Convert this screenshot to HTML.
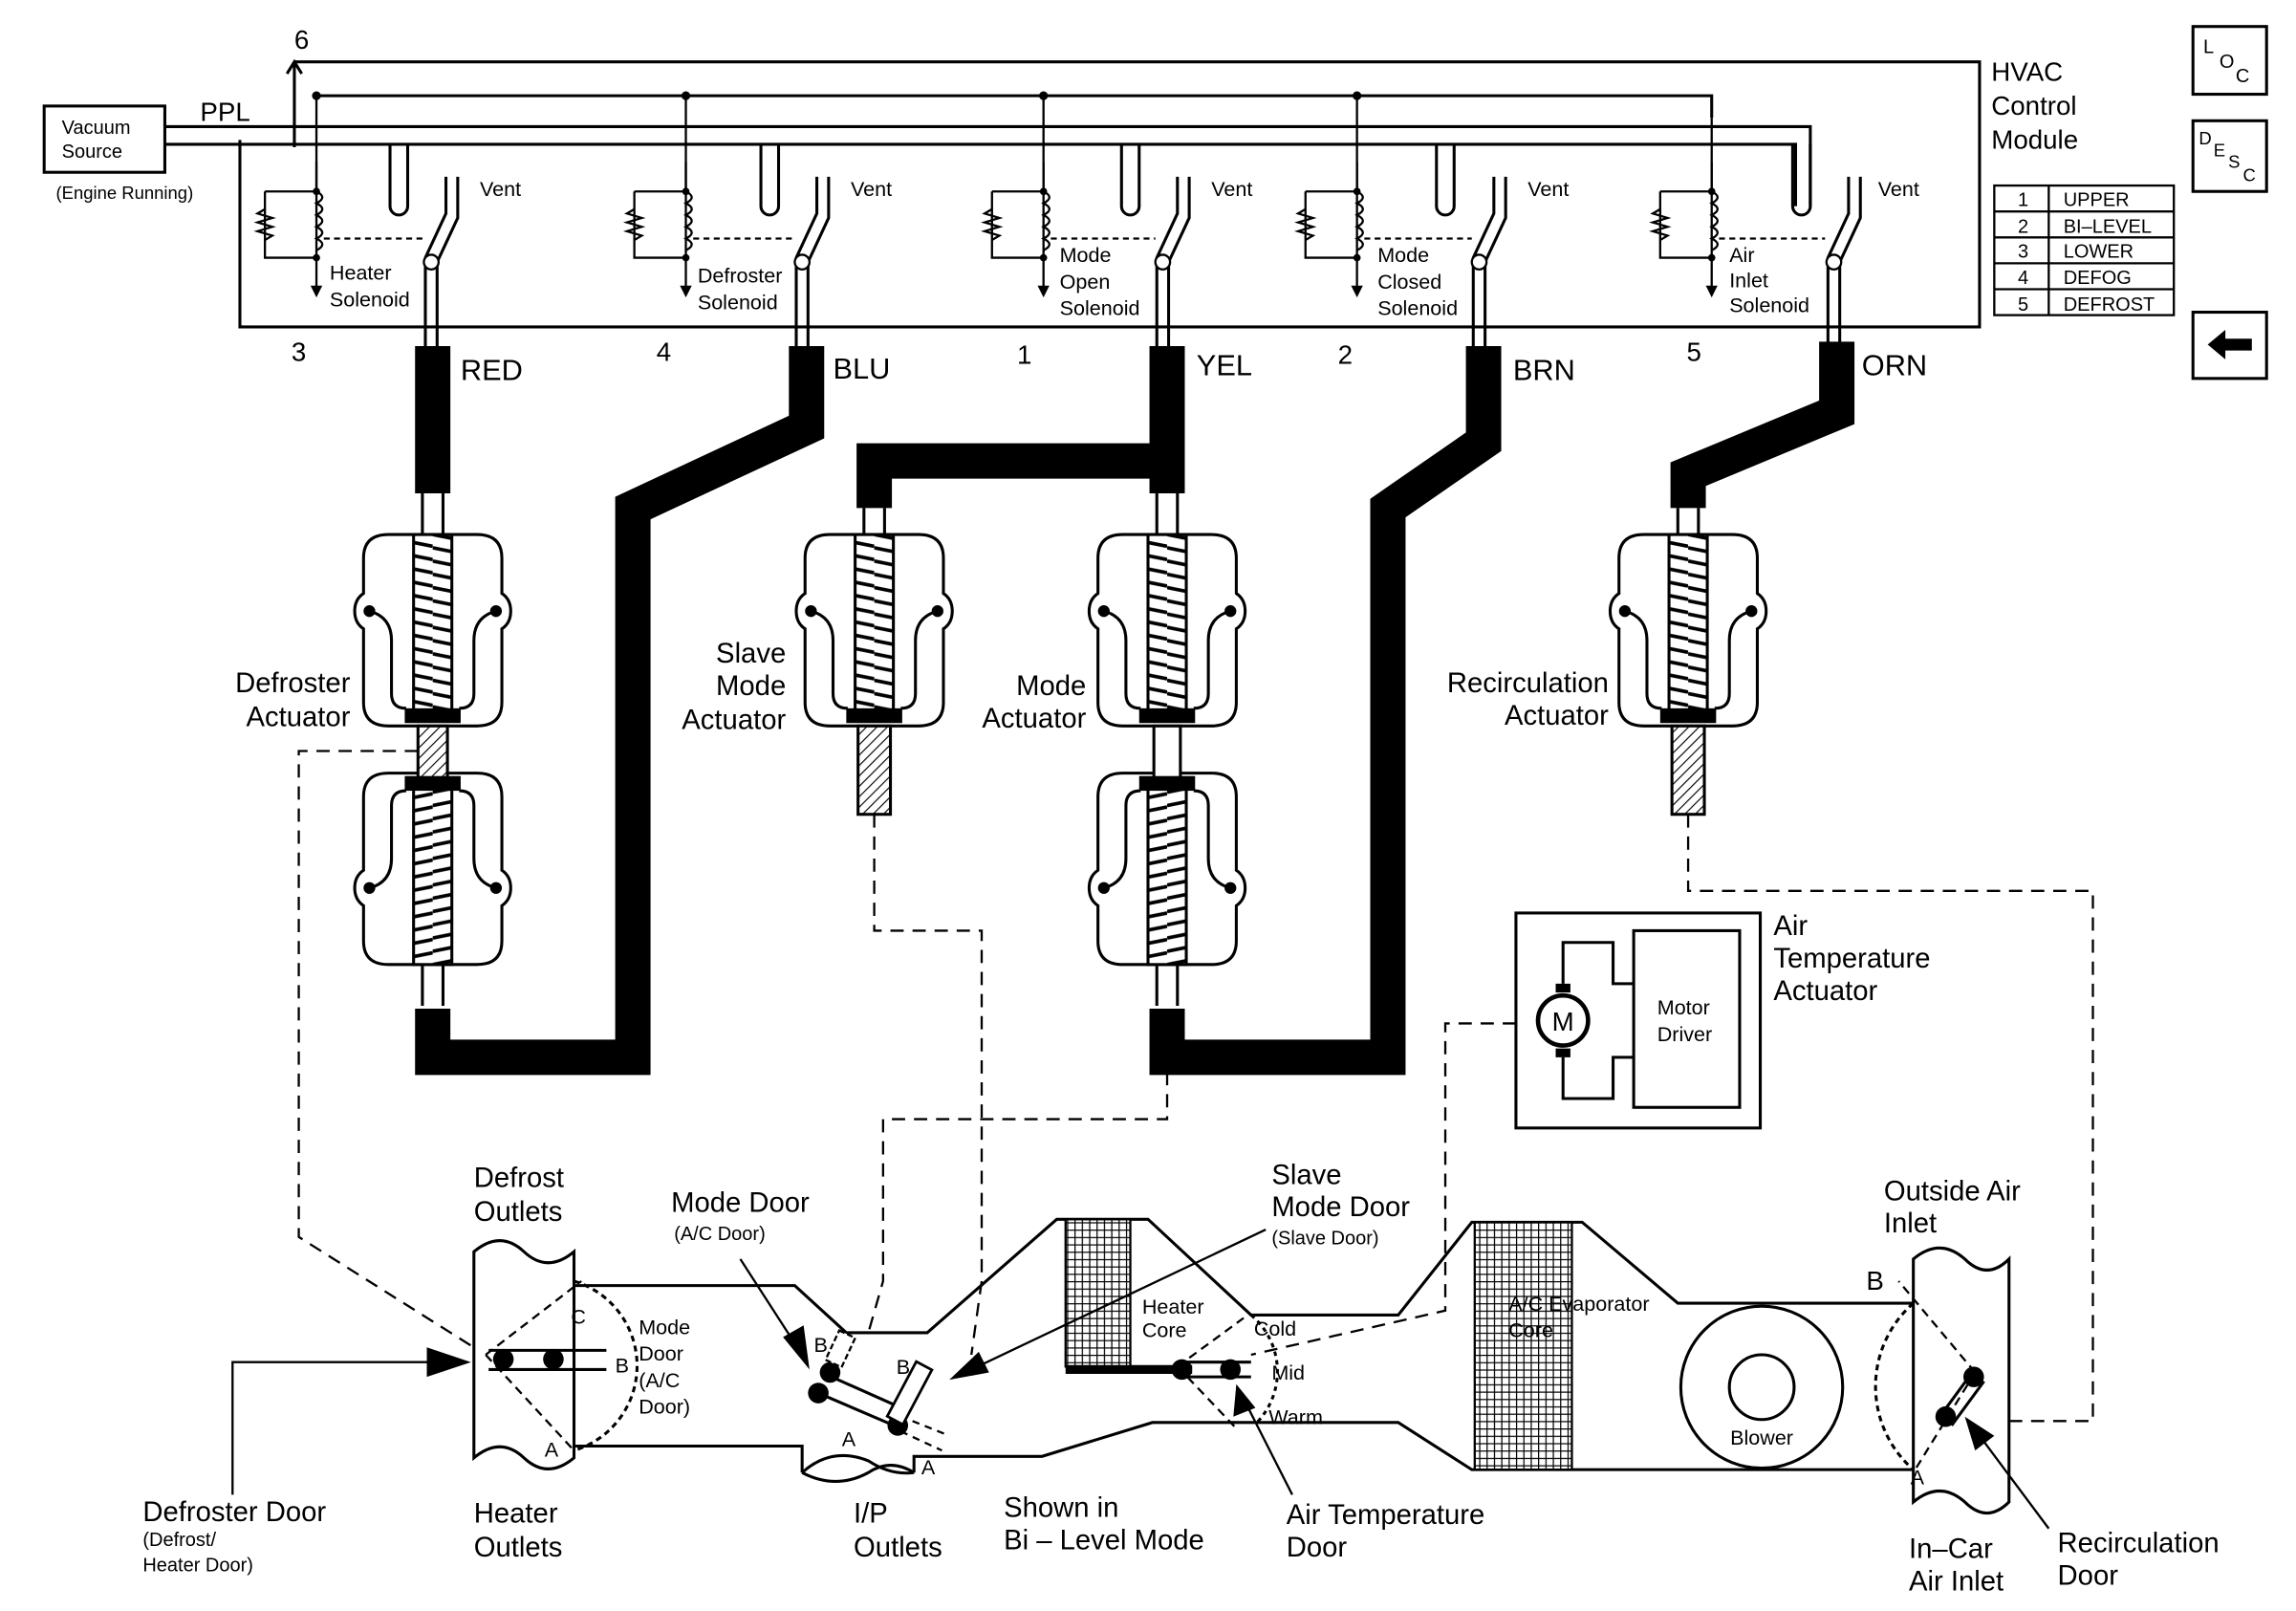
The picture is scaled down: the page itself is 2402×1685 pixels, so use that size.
<!DOCTYPE html>
<html><head><meta charset="utf-8"><style>
html,body{margin:0;padding:0;background:#fff}
svg{display:block}
text{font-family:"Liberation Sans",sans-serif;fill:#000}
</style></head><body>
<svg width="2402" height="1685" viewBox="0 0 1560 1094" preserveAspectRatio="none" xmlns="http://www.w3.org/2000/svg">
<defs>
<pattern id="grid" width="5" height="5" patternUnits="userSpaceOnUse"><rect width="5" height="5" fill="#fff"/><path d="M0 0H5M0 0V5" stroke="#000" stroke-width="1.6"/></pattern>
<pattern id="hatch" width="5" height="5" patternUnits="userSpaceOnUse" patternTransform="rotate(45)"><rect width="5" height="5" fill="#fff"/><path d="M0 0V5" stroke="#000" stroke-width="1.5"/></pattern>
<pattern id="spring" x="0" y="0" width="40" height="9" patternUnits="userSpaceOnUse"><rect width="40" height="9" fill="#fff"/><path d="M0 0 L40 8 M0 -9 L40 -1 M0 9 L40 17" stroke="#000" stroke-width="2.4"/></pattern>
<g id="act">
<path d="M-30 0 H30 Q47 0 47 16 V40 Q53 44 53 52 Q53 60 47 64 V114 Q47 130 30 130 H-30 Q-47 130 -47 114 V64 Q-53 60 -53 52 Q-53 44 -47 40 V16 Q-47 0 -30 0Z" fill="#fff" stroke="#000" stroke-width="2"/>
<path d="M-43 52 Q-28 56 -28 72 V108 Q-28 118 -18 118 M43 52 Q28 56 28 72 V108 Q28 118 18 118" fill="none" stroke="#000" stroke-width="2"/>
<circle cx="-43" cy="52" r="4"/><circle cx="43" cy="52" r="4"/>
<rect x="-13" y="0" width="26" height="120" fill="url(#spring)" stroke="#000" stroke-width="2"/>
<rect x="-19" y="118" width="38" height="10" fill="#000"/>
</g>
<g id="sol">
<path d="M0 -20 V70" stroke="#000" stroke-width="1.5"/>
<path d="M-35 0 H0 M-35 0 V45 H0 M0 0 q8 4 0 8 q8 4 0 8 q8 4 0 8 q8 4 0 8 q8 4 0 8" stroke="#000" stroke-width="1.5" fill="none"/>
<path d="M-35 12 l-5 3 l10 3 l-10 3 l10 3 l-10 3 l10 3 l-5 3" stroke="#000" stroke-width="1.5" fill="none"/>
<circle cx="0" cy="0" r="2.5"/><circle cx="0" cy="45" r="2.5"/>
<path d="M-4 64 L0 72 L4 64Z"/>
</g>
</defs>

<!-- module outline -->
<path d="M200 42 H1345 V222 H163 V95" fill="none" stroke="#000" stroke-width="2"/>
<path d="M200 42 V100 M195 50 L200 42 L205 50" fill="none" stroke="#000" stroke-width="2"/>
<text x="200" y="33" font-size="18">6</text>
<path d="M215 65 H1163 V80" fill="none" stroke="#000" stroke-width="2"/>
<g fill="#000"><circle cx="215" cy="65" r="3"/><circle cx="466" cy="65" r="3"/><circle cx="709" cy="65" r="3"/><circle cx="922" cy="65" r="3"/></g>
<path d="M215 65V130 M466 65V130 M709 65V130 M922 65V130 M1163 80V130" stroke="#000" stroke-width="1.5"/>
<rect x="30" y="72" width="82" height="45" fill="#fff" stroke="#000" stroke-width="2"/>
<text x="42" y="91" font-size="13">Vacuum</text><text x="42" y="107" font-size="13">Source</text>
<text x="38" y="135" font-size="12">(Engine Running)</text>
<text x="136" y="82" font-size="18">PPL</text>
<path d="M112 86 H1230 V140 M112 98 H1220 V140" fill="none" stroke="#000" stroke-width="2"/>
<g fill="none" stroke="#000" stroke-width="2">
<path d="M265 98 V140 a6 6 0 0 0 12 0 V98"/>
<path d="M517 98 V140 a6 6 0 0 0 12 0 V98"/>
<path d="M762 98 V140 a6 6 0 0 0 12 0 V98"/>
<path d="M976 98 V140 a6 6 0 0 0 12 0 V98"/>
<path d="M1218 98 V140 a6 6 0 0 0 12 0 V98"/>
</g>
<g>
<use href="#sol" x="215" y="130"/><use href="#sol" x="466" y="130"/><use href="#sol" x="709" y="130"/><use href="#sol" x="922" y="130"/><use href="#sol" x="1163" y="130"/>
</g>
<g fill="none" stroke="#000" stroke-width="1.5" stroke-dasharray="4 3">
<path d="M220 162 H290"/><path d="M471 162 H540"/><path d="M714 162 H785"/><path d="M927 162 H1000"/><path d="M1168 162 H1240"/>
</g>
<g fill="none" stroke="#000" stroke-width="2">
<path d="M303 120 V145 L289 175 V235 M311 120 V148 L297 178 V235"/>
<path d="M555 120 V145 L541 175 V235 M563 120 V148 L549 178 V235"/>
<path d="M800 120 V145 L786 175 V235 M808 120 V148 L794 178 V235"/>
<path d="M1015 120 V145 L1001 175 V235 M1023 120 V148 L1009 178 V235"/>
<path d="M1256 120 V145 L1242 175 V235 M1264 120 V148 L1250 178 V235"/>
</g>
<g fill="#fff" stroke="#000" stroke-width="1.5"><circle cx="293" cy="178" r="5"/><circle cx="545" cy="178" r="5"/><circle cx="790" cy="178" r="5"/><circle cx="1005" cy="178" r="5"/><circle cx="1246" cy="178" r="5"/></g>
<g font-size="14">
<text x="326" y="133">Vent</text><text x="578" y="133">Vent</text><text x="823" y="133">Vent</text><text x="1038" y="133">Vent</text><text x="1276" y="133">Vent</text>
<text x="224" y="190">Heater</text><text x="224" y="208">Solenoid</text>
<text x="474" y="192">Defroster</text><text x="474" y="210">Solenoid</text>
<text x="720" y="178">Mode</text><text x="720" y="196">Open</text><text x="720" y="214">Solenoid</text>
<text x="936" y="178">Mode</text><text x="936" y="196">Closed</text><text x="936" y="214">Solenoid</text>
<text x="1175" y="178">Air</text><text x="1175" y="195">Inlet</text><text x="1175" y="212">Solenoid</text>
</g>
<g font-size="18"><text x="198" y="245">3</text><text x="446" y="245">4</text><text x="691" y="247">1</text><text x="909" y="247">2</text><text x="1146" y="245">5</text>
<text x="1353" y="55">HVAC</text><text x="1353" y="78">Control</text><text x="1353" y="101">Module</text></g>
<g font-size="20"><text x="313" y="258">RED</text><text x="566" y="257">BLU</text><text x="813" y="255">YEL</text><text x="1028" y="258">BRN</text><text x="1265" y="255">ORN</text></g>

<rect x="1490" y="18" width="50" height="46" fill="none" stroke="#000" stroke-width="2"/>
<text x="1497" y="36" font-size="13">L</text><text x="1508" y="46" font-size="13">O</text><text x="1519" y="56" font-size="13">C</text>
<rect x="1490" y="82" width="50" height="48" fill="none" stroke="#000" stroke-width="2"/>
<text x="1494" y="98" font-size="12">D</text><text x="1504" y="106" font-size="12">E</text><text x="1514" y="114" font-size="12">S</text><text x="1524" y="123" font-size="12">C</text>
<rect x="1490" y="212" width="50" height="45" fill="none" stroke="#000" stroke-width="2"/>
<path d="M1500 234 L1512 224 V230 H1530 V238 H1512 V244Z" fill="#000"/>
<g stroke="#000" stroke-width="1.5" fill="none"><rect x="1355" y="126" width="122" height="88"/>
<path d="M1355 143.6H1477M1355 161.2H1477M1355 178.8H1477M1355 196.4H1477M1392 126V214"/></g>
<g font-size="13"><text x="1371" y="140">1</text><text x="1402" y="140">UPPER</text>
<text x="1371" y="158">2</text><text x="1402" y="158">BI–LEVEL</text>
<text x="1371" y="175">3</text><text x="1402" y="175">LOWER</text>
<text x="1371" y="193">4</text><text x="1402" y="193">DEFOG</text>
<text x="1371" y="211">5</text><text x="1402" y="211">DEFROST</text></g>

<g fill="none" stroke="#000" stroke-width="24" stroke-linejoin="miter">
<path d="M294 235 V335"/>
<path d="M548 235 V290 L430 345 V718 H294 V685"/>
<path d="M793 235 V313 H594 V345"/>
<path d="M793 313 V335"/>
<path d="M1008 235 V300 L943 345 V718 H793 V685"/>
<path d="M1248 232 V280 L1147 322 V345"/>
</g>
<g fill="none" stroke="#000" stroke-width="2">
<path d="M287 335 V363 M301 335 V363"/><path d="M587 345 V363 M601 345 V363"/>
<path d="M786 335 V363 M800 335 V363"/><path d="M1140 345 V363 M1154 345 V363"/>
<path d="M287 655 V683 M301 655 V683"/><path d="M786 655 V683 M800 655 V683"/>
</g>
<use href="#act" x="294" y="363"/>
<g transform="translate(294 655) scale(1 -1)"><use href="#act"/></g>
<rect x="284" y="493" width="20" height="35" fill="url(#hatch)" stroke="#000" stroke-width="2"/>
<use href="#act" x="594" y="363"/>
<rect x="583" y="493" width="22" height="60" fill="url(#hatch)" stroke="#000" stroke-width="2"/>
<use href="#act" x="793" y="363"/>
<g transform="translate(793 655) scale(1 -1)"><use href="#act"/></g>
<rect x="784" y="493" width="18" height="35" fill="#fff" stroke="#000" stroke-width="2"/>
<use href="#act" x="1147" y="363"/>
<rect x="1136" y="493" width="22" height="60" fill="url(#hatch)" stroke="#000" stroke-width="2"/>
<g font-size="19" text-anchor="end">
<text x="238" y="470">Defroster</text><text x="238" y="493">Actuator</text>
<text x="534" y="450">Slave</text><text x="534" y="472">Mode</text><text x="534" y="495">Actuator</text>
<text x="738" y="472">Mode</text><text x="738" y="494">Actuator</text>
<text x="1093" y="470">Recirculation</text><text x="1093" y="492">Actuator</text>
</g>

<rect x="1030" y="620" width="166" height="146" fill="none" stroke="#000" stroke-width="2"/>
<rect x="1110" y="632" width="72" height="120" fill="none" stroke="#000" stroke-width="2"/>
<path d="M1062 668 V640 H1096 V668 H1110 M1062 718 V746 H1096 V718 H1110" fill="none" stroke="#000" stroke-width="2"/>
<circle cx="1062" cy="693" r="17" fill="#fff" stroke="#000" stroke-width="3"/>
<rect x="1057" y="668" width="10" height="6"/><rect x="1057" y="712" width="10" height="6"/>
<text x="1062" y="700" font-size="18" text-anchor="middle">M</text>
<text x="1126" y="689" font-size="14">Motor</text><text x="1126" y="707" font-size="14">Driver</text>
<g font-size="19"><text x="1205" y="635">Air</text><text x="1205" y="657">Temperature</text><text x="1205" y="679">Actuator</text></g>

<g fill="none" stroke="#000" stroke-width="1.5" stroke-dasharray="9 6">
<path d="M284 510 H203 V840 L322 915"/>
<path d="M594 553 V632 H667 V870 L660 920"/>
<path d="M793 728 V760 H600 V870 L590 905"/>
<path d="M1147 553 V605 H1422 V965 H1365"/>
<path d="M1030 695 H982 V890 L850 920"/>
</g>

<g fill="none" stroke="#000" stroke-width="2">
<path d="M390 873 H540 L575 905 H630 L718 828 H780 L850 893 H950 L1000 830 H1075 L1140 885 H1300"/>
<path d="M390 982 H545 V1000 M621 1000 V989 H708 L783 966 H950 L1000 998 H1300"/>
<path d="M322 850 Q340 835 356 850 Q372 865 390 850 V990 Q372 1005 356 990 Q340 975 322 990Z" fill="#fff"/>
<path d="M545 1000 Q565 982 590 992 Q605 1002 621 1000 M545 1000 Q568 1012 590 1000 Q605 990 621 1000"/>
<path d="M1300 855 Q1318 840 1335 855 Q1350 870 1365 855 V1020 Q1350 1035 1335 1020 Q1318 1005 1300 1020Z" fill="#fff"/>
<path d="M390 870 A60 60 0 0 1 390 985" stroke-dasharray="4 3"/>
<path d="M1300 885 A75 75 0 0 0 1300 998" stroke-dasharray="4 3"/>
<path d="M850 893 A50 50 0 0 1 854 966" stroke-dasharray="3 3"/>
</g>
<rect x="724" y="828" width="44" height="100" fill="url(#grid)" stroke="#000" stroke-width="1.5"/>
<rect x="1002" y="830" width="66" height="168" fill="url(#grid)" stroke="#000" stroke-width="1.5"/>
<path d="M724 930 H810" stroke="#000" stroke-width="6"/>
<circle cx="1197" cy="942" r="55" fill="#fff" stroke="#000" stroke-width="2"/>
<circle cx="1197" cy="942" r="22" fill="#fff" stroke="#000" stroke-width="2"/>
<text x="1197" y="981" font-size="14" text-anchor="middle">Blower</text>
<g fill="none" stroke="#000" stroke-width="1.5" stroke-dasharray="6 4">
<path d="M330 920 L395 870 M330 920 L390 985"/>
<path d="M800 928 L845 895 M800 928 L840 970"/>
<path d="M1342 932 L1290 870 M1342 932 L1300 1000"/>
</g>
<path d="M332 917 H412 M332 930 H412" stroke="#000" stroke-width="2"/>
<circle cx="342" cy="923" r="7"/><circle cx="376" cy="923" r="7"/>
<path d="M805 925 H850 M805 935 H850" stroke="#000" stroke-width="2"/>
<circle cx="803" cy="930" r="7"/><circle cx="836" cy="930" r="7"/>
<path d="M1318 962 L1340 932 M1326 968 L1348 938" stroke="#000" stroke-width="2"/>
<circle cx="1322" cy="962" r="7"/><circle cx="1341" cy="935" r="7"/>
<path d="M556 946 L612 970 M565 935 L610 955" stroke="#000" stroke-width="2"/>
<circle cx="556" cy="946" r="7"/><circle cx="564" cy="932" r="7"/><circle cx="610" cy="968" r="7"/>
<rect x="565" y="905" width="12" height="22" fill="#fff" stroke="#000" stroke-width="1.5" stroke-dasharray="4 2" transform="rotate(25 571 916)"/>
<rect x="612" y="925" width="12" height="42" fill="#fff" stroke="#000" stroke-width="1.8" transform="rotate(28 618 946)"/>
<path d="M612 972 L640 985 M620 965 L645 975" stroke="#000" stroke-width="1.5" stroke-dasharray="5 4"/>
<g font-size="14">
<text x="388" y="899">C</text><text x="418" y="932">B</text><text x="370" y="989">A</text>
<text x="434" y="906">Mode</text><text x="434" y="924">Door</text><text x="434" y="942">(A/C</text><text x="434" y="960">Door)</text>
<text x="553" y="918">B</text><text x="609" y="933">B</text><text x="572" y="982">A</text><text x="626" y="1001">A</text>
<text x="776" y="892">Heater</text><text x="776" y="908">Core</text>
<text x="852" y="907">Cold</text><text x="864" y="937">Mid</text><text x="862" y="967">Warm</text>
<text x="1025" y="890">A/C Evaporator</text><text x="1025" y="908">Core</text>
<text x="1298" y="1008">A</text>
</g>
<text x="1268" y="876" font-size="18">B</text>
<g stroke="#000" stroke-width="1.5" fill="none">
<path d="M158 1015 V925 H300"/><path d="M503 855 L545 920"/><path d="M860 835 L660 930"/><path d="M878 1015 L845 950"/><path d="M1392 1038 L1345 975"/>
</g>
<g fill="#000">
<path d="M320 925 L290 915 L290 935Z"/>
<path d="M550 930 L532 908 L546 900Z"/>
<path d="M645 937 L665 918 L672 932Z"/>
<path d="M840 940 L838 962 L853 956Z"/>
<path d="M1335 962 L1342 985 L1355 975Z"/>
</g>
<g font-size="19">
<text x="322" y="806">Defrost</text><text x="322" y="829">Outlets</text>
<text x="456" y="823">Mode Door</text><text x="458" y="842" font-size="13">(A/C Door)</text>
<text x="864" y="804">Slave</text><text x="864" y="826">Mode Door</text><text x="864" y="845" font-size="13">(Slave Door)</text>
<text x="1280" y="815">Outside Air</text><text x="1280" y="837">Inlet</text>
<text x="97" y="1033">Defroster Door</text><text x="97" y="1050" font-size="13">(Defrost/</text><text x="97" y="1067" font-size="13">Heater Door)</text>
<text x="322" y="1034">Heater</text><text x="322" y="1057">Outlets</text>
<text x="580" y="1034">I/P</text><text x="580" y="1057">Outlets</text>
<text x="682" y="1030">Shown in</text><text x="682" y="1052">Bi – Level Mode</text>
<text x="874" y="1035">Air Temperature</text><text x="874" y="1057">Door</text>
<text x="1297" y="1058">In–Car</text><text x="1297" y="1080">Air Inlet</text>
<text x="1398" y="1054">Recirculation</text><text x="1398" y="1076">Door</text>
</g>
</svg>
</body></html>
